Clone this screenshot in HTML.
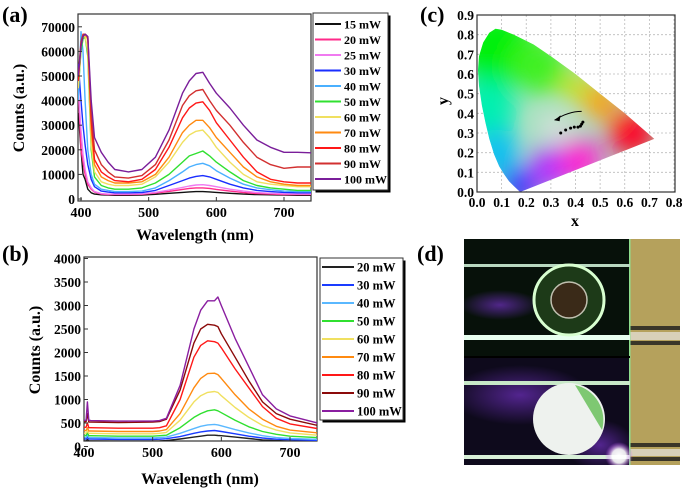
<!DOCTYPE html>
<html><head><meta charset="utf-8"><style>
html,body{margin:0;padding:0;background:#fff;}
svg{display:block;font-family:"Liberation Serif",serif;font-weight:bold;}
</style></head><body>
<svg id="fig" width="685" height="490" viewBox="0 0 685 490">
<defs>
<clipPath id="clipA"><rect x="78" y="14" width="233" height="187"/></clipPath>
<clipPath id="clipB"><rect x="84" y="257" width="233" height="184"/></clipPath>
<clipPath id="clipPhoto"><rect x="464" y="239" width="216" height="226"/></clipPath>
<filter id="blurC" x="-50%" y="-50%" width="200%" height="200%"><feGaussianBlur stdDeviation="12"/></filter>
<radialGradient id="glow"><stop offset="0" stop-color="#fff"/><stop offset="0.5" stop-color="#fff" stop-opacity="0.9"/><stop offset="1" stop-color="#c040ff" stop-opacity="0"/></radialGradient>
<radialGradient id="haze"><stop offset="0" stop-color="#7030c0" stop-opacity="0.7"/><stop offset="1" stop-color="#7030c0" stop-opacity="0"/></radialGradient>
</defs>
<g id="panelA"></g>
<g id="panelB"></g>
<g id="panelC"></g>
<g id="panelD">
  <text x="417" y="261" font-size="22">(d)</text>
  <g clip-path="url(#clipPhoto)">
    <rect x="464" y="239" width="166" height="226" fill="#07110a"/>
    <rect x="464" y="357" width="166" height="108" fill="#0e0a1c"/>
    <ellipse cx="520" cy="395" rx="70" ry="30" fill="url(#haze)"/>
    <ellipse cx="500" cy="305" rx="40" ry="15" fill="url(#haze)"/>
    <ellipse cx="600" cy="445" rx="35" ry="25" fill="url(#haze)"/>
    <rect x="630" y="239" width="50" height="226" fill="#b5a15c"/>
    <rect x="630" y="326" width="50" height="4" fill="#3a3528"/>
    <rect x="630" y="332" width="50" height="8" fill="#d8d0b8"/>
    <rect x="630" y="341" width="50" height="4" fill="#3a3528"/>
    <rect x="630" y="443" width="50" height="4" fill="#3a3528"/>
    <rect x="630" y="449" width="50" height="7" fill="#d8d0b8"/>
    <rect x="630" y="457" width="50" height="4" fill="#3a3528"/>
    <rect x="629" y="239" width="1.5" height="226" fill="#8fe08f"/>
    <rect x="464" y="264" width="166" height="3" fill="#b8d8c0"/>
    <rect x="464" y="335" width="166" height="5" fill="#e8fff0"/>
    <rect x="464" y="381" width="166" height="4" fill="#c8e8c8"/>
    <rect x="464" y="455" width="166" height="4" fill="#d8f0d8"/>
    <rect x="464" y="356" width="166" height="2" fill="#000"/>
    <circle cx="569" cy="300" r="35" fill="#1d3a18" stroke="#d8ffd0" stroke-width="3"/>
    <circle cx="569" cy="300" r="18" fill="#3a2a18" stroke="#c0c0b0" stroke-width="1.5"/>
    <circle cx="569" cy="419" r="36" fill="#eef2ee"/>
    <path d="M575 385 A36 36 0 0 1 602 430 Z" fill="#7ec872"/>
    <circle cx="619" cy="456" r="14" fill="url(#glow)"/>
  </g>
</g>
</svg>
<script>
var NS="http://www.w3.org/2000/svg";
function mk(parent,tag,attrs,text){var e=document.createElementNS(NS,tag);for(var k in attrs)e.setAttribute(k,attrs[k]);if(text!==undefined)e.textContent=text;parent.appendChild(e);return e;}

// ---------- Panel A data ----------
var aWave=[396,400,403,406,410,415,420,430,440,450,470,490,510,530,550,560,570,580,590,600,620,640,660,680,700,720,740];
var aLabels=["15 mW","20 mW","25 mW","30 mW","40 mW","50 mW","60 mW","70 mW","80 mW","90 mW","100 mW"];
var aColors=["#111111","#ff2a8a","#f07af0","#1a2eff","#4ab0ff","#30e030","#f0e060","#ff8a10","#ff1818","#d23030","#7a1e9a"];
var a15=[35000,20000,10000,8000,4000,2500,2000,1700,1600,1500,1500,1600,1900,2300,2700,2900,3000,3000,2900,2700,2300,2000,1800,1700,1600,1500,1500];
var a20=[45000,20000,15000,10000,6000,4000,2800,2000,1800,1800,1800,1900,2400,3100,3900,4300,4500,4500,4300,3900,3200,2600,2200,2000,1800,1800,1800];
var a25=[45000,28000,18000,12000,7000,4500,3000,2200,2000,2000,2000,2100,2700,3600,4700,5300,5700,5800,5500,5000,4000,3200,2600,2300,2100,2000,2000];
var a30=[55000,40000,30000,22000,14000,8000,5000,3200,2800,2500,2500,2600,3500,5500,7500,8500,9200,9500,9000,8000,6000,4500,3500,3000,2700,2500,2500];
var a40=[40000,68000,60000,40000,20000,10000,6000,4000,3500,3000,3000,3200,4500,7500,11000,13000,14000,14500,13500,11500,8500,6000,4500,3800,3200,3000,3000];
var a50=[45000,60000,65000,66000,58000,20000,9000,5500,4500,4000,4000,4500,6500,10000,15000,17500,18500,19500,17500,15000,11000,7500,5500,4500,4000,3500,3500];
var a60=[45000,62000,66000,66000,60000,22000,11000,7000,6000,5500,5500,6000,9000,15000,23000,26000,27500,28000,25000,21000,15000,10000,7000,6000,5500,5000,5000];
var a70=[48000,63000,66000,67000,65000,28000,14000,9000,7500,6500,6500,7000,10000,17000,27000,30000,32000,32000,29000,25000,19000,13000,9000,7000,6000,5500,5500];
var a80=[48000,63000,66000,67000,66000,32000,16000,11000,9000,7500,7000,8000,12000,21000,33000,37000,39000,39500,36000,31000,24000,17000,11000,8000,7000,6500,6500];
var a90=[50000,64000,67000,67000,66000,35000,20000,14000,11000,9000,8500,9500,14000,24000,38000,42000,44000,44500,40000,36000,30000,23000,17000,14000,12500,13000,13000];
var a100=[50000,62000,66000,67000,66000,40000,25000,19000,15000,12000,11000,12000,17000,28000,43000,48000,51000,51500,47000,43000,37000,30000,24000,21000,19000,19000,18800];
var aSeries=[a15,a20,a25,a30,a40,a50,a60,a70,a80,a90,a100];
var aXTicks=[400,500,600,700];
var aYTicks=[0,10000,20000,30000,40000,50000,60000,70000];

// ---------- Panel B data ----------
var bWave=[398,403,405,407,410,450,500,510,520,540,560,570,580,590,595,600,620,640,660,680,700,740];
var bLabels=["20 mW","30 mW","40 mW","50 mW","60 mW","70 mW","80 mW","90 mW","100 mW"];
var bColors=["#222222","#1a3cff","#5ab8ff","#30e030","#f0e060","#ff8a10","#ff1818","#8b0a0a","#8a1ea0"];
var b20=[120,120,150,120,120,115,115,118,125,160,200,220,240,240,235,230,200,170,140,125,115,105];
var b30=[160,160,200,160,160,150,150,155,165,210,280,310,330,340,330,320,270,220,180,155,145,130];
var b40=[190,190,250,190,190,180,180,190,200,280,380,430,460,470,460,440,360,290,230,190,170,150];
var b50=[230,235,300,230,230,220,220,230,240,400,620,700,760,780,760,720,560,420,320,260,220,190];
var b60=[280,285,330,280,280,270,270,280,300,560,950,1080,1150,1170,1150,1080,830,620,450,350,290,240];
var b70=[330,340,400,330,330,320,320,330,360,700,1250,1450,1550,1560,1530,1450,1100,800,580,430,350,290];
var b80=[400,410,500,400,400,390,390,400,440,1000,1900,2150,2250,2230,2200,2100,1650,1250,850,600,480,380];
var b90=[520,530,700,520,520,510,520,530,580,1200,2200,2500,2600,2580,2550,2400,1900,1400,950,700,580,450];
var b100=[550,560,950,560,550,540,540,550,600,1300,2500,2900,3100,3100,3180,3000,2300,1700,1100,800,650,500];
var bSeries=[b20,b30,b40,b50,b60,b70,b80,b90,b100];
var bXTicks=[400,500,600,700];
var bYTicks=[0,500,1000,1500,2000,2500,3000,3500,4000];

// ---------- Panel C data ----------
var cLocusX=[0.175,0.165,0.15,0.13,0.11,0.09,0.07,0.05,0.035,0.02,0.008,0.004,0.008,0.025,0.05,0.075,0.1,0.15,0.23,0.3,0.4,0.5,0.6,0.72];
var cLocusY=[0.0,0.012,0.03,0.055,0.09,0.13,0.19,0.27,0.35,0.44,0.54,0.62,0.69,0.76,0.81,0.83,0.825,0.8,0.75,0.69,0.6,0.5,0.4,0.27];
var cPointX=[0.34,0.36,0.38,0.395,0.41,0.42,0.425,0.43];
var cPointY=[0.30,0.315,0.325,0.33,0.33,0.335,0.345,0.355];
var cXTicks=[0,0.1,0.2,0.3,0.4,0.5,0.6,0.7,0.8];
var cYTicks=[0,0.1,0.2,0.3,0.4,0.5,0.6,0.7,0.8,0.9];

function lin(d0,d1,r0,r1){return function(v){return r0+(v-d0)*(r1-r0)/(d1-d0);};}

function drawSpectrum(g,o){
  var xs=lin(400,700,o.x400,o.x700), ys=lin(0,o.yRefVal,o.y0,o.yRef);
  var box=mk(g,'rect',{x:o.L,y:o.T,width:o.R-o.L,height:o.B-o.T,fill:'none',stroke:'#333','stroke-width':1.2});
  
  
  var lines=mk(g,'g',{'clip-path':'url(#'+o.clip+')'});
  
  
  o.series.forEach(function(s,i){
    var d='';
    for(var k=0;k<o.wave.length;k++){d+=(k?'L':'M')+xs(o.wave[k]).toFixed(1)+' '+ys(s[k]).toFixed(1);}
    var p=mk(lines,'path',{d:d,fill:'none',stroke:o.colors[i],'stroke-width':1.4,'stroke-linejoin':'round'});
    
    
  });
  o.xTicks.forEach(function(t){
    var x=xs(t);
    mk(g,'line',{x1:x,x2:x,y1:o.B,y2:o.B-4,stroke:'#333','stroke-width':1});
    var tl=mk(g,'text',{x:x,y:o.B+16,'font-size':14,'text-anchor':'middle'},t);
    
    
  });
  o.yTicks.forEach(function(t){
    var y=ys(t);
    mk(g,'line',{x1:o.L,x2:o.L+4,y1:y,y2:y,stroke:'#333','stroke-width':1});
    var tl=mk(g,'text',{x:o.L-3,y:y+5,'font-size':13.5,'text-anchor':'end'},t);
    
    
  });
  var xt=mk(g,'text',{x:o.xTitleX,y:o.xTitleY,'font-size':16,'text-anchor':'middle'},'Wavelength (nm)');
  
  
  var yt=mk(g,'text',{x:0,y:0,'font-size':16,'text-anchor':'middle',transform:'translate('+o.yTitleX+','+o.yTitleY+') rotate(-90)'},'Counts (a.u.)');
  
  
  var pl=mk(g,'text',{x:o.labX,y:o.labY,'font-size':22},o.panel);
  
  
  var lg=mk(g,'g',{});
  
  
  mk(lg,'rect',{x:o.lg.x+2.5,y:o.lg.y+2.5,width:o.lg.w,height:o.lg.h,fill:'#000'});
  mk(lg,'rect',{x:o.lg.x,y:o.lg.y,width:o.lg.w,height:o.lg.h,fill:'#fff',stroke:'#333','stroke-width':1});
  o.labels.forEach(function(lab,i){
    var y=o.lg.first+i*o.lg.step;
    var en=mk(lg,'g',{});
    
    
    mk(en,'line',{x1:o.lg.x+2,x2:o.lg.x+o.lg.lineW,y1:y,y2:y,stroke:o.colors[i],'stroke-width':2});
    mk(en,'text',{x:o.lg.x+o.lg.lineW+3,y:y+4.5,'font-size':o.lg.fs},lab);
  });
}

drawSpectrum(document.getElementById('panelA'),{id:'panel-a',panel:'(a)',L:78,R:311,T:14,B:201,x400:81,x700:284,y0:199,yRef:26.8,yRefVal:70000,
  wave:aWave,series:aSeries,colors:aColors,labels:aLabels,xTicks:aXTicks,yTicks:aYTicks,clip:'clipA',
  xTitleX:195,xTitleY:240,yTitleX:24,yTitleY:108,labX:2,labY:22,
  lg:{x:313,y:13,w:75,h:177,first:24,step:15.5,lineW:28,fs:12}});
drawSpectrum(document.getElementById('panelB'),{id:'panel-b',panel:'(b)',L:84,R:317,T:257,B:441,x400:84,x700:290,y0:446.5,yRef:258.5,yRefVal:4000,
  wave:bWave,series:bSeries,colors:bColors,labels:bLabels,xTicks:bXTicks,yTicks:bYTicks,clip:'clipB',
  xTitleX:200,xTitleY:484,yTitleX:40,yTitleY:350,labX:2,labY:261,
  lg:{x:320,y:258,w:83,h:162,first:267,step:18,lineW:34,fs:12.5}});

(function(){
  var g=document.getElementById('panelC');
  var L=477,R=675,T=15,B=192;
  var xs=lin(0,0.8,477,674), ys=lin(0,0.9,192,15);
  mk(g,'rect',{x:L,y:T,width:R-L,height:B-T,fill:'#fff'});
  cXTicks.forEach(function(t){var x=xs(t);mk(g,'line',{x1:x,x2:x,y1:T,y2:B,stroke:'#bbb','stroke-width':0.8,'stroke-dasharray':'2,2'});});
  cYTicks.forEach(function(t){var y=ys(t);mk(g,'line',{x1:L,x2:R,y1:y,y2:y,stroke:'#bbb','stroke-width':0.8,'stroke-dasharray':'2,2'});});
  var d='';
  for(var k=0;k<cLocusX.length;k++){d+=(k?'L':'M')+xs(cLocusX[k]).toFixed(1)+' '+ys(cLocusY[k]).toFixed(1);}
  d+='Z';
  var cp=mk(document.querySelector('defs'),'clipPath',{id:'clipC'});
  mk(cp,'path',{d:d});
  var gam=mk(g,'g',{'clip-path':'url(#clipC)'});
  
  
  mk(gam,'path',{d:d,fill:'#a8e0c0'});
  var bl=mk(gam,'g',{filter:'url(#blurC)'});
  var blobs=[[0.08,0.72,40,'#00f010'],[0.25,0.64,28,'#40f020'],[0.04,0.42,30,'#00f0b0'],[0.08,0.2,24,'#10c0f0'],[0.17,0.03,18,'#1818ff'],[0.3,0.12,22,'#b030ff'],[0.42,0.16,22,'#ff20d0'],[0.63,0.3,24,'#ff0020'],[0.5,0.46,18,'#ff9a10'],[0.4,0.53,16,'#c8e020'],[0.32,0.33,14,'#e0e0e0']];
  blobs.forEach(function(b){mk(bl,'circle',{cx:xs(b[0]),cy:ys(b[1]),r:b[2],fill:b[3]});});
  mk(g,'rect',{x:L,y:T,width:R-L,height:B-T,fill:'none',stroke:'#333','stroke-width':1.2});
  cXTicks.forEach(function(t){var x=xs(t);
    var tl=mk(g,'text',{x:x,y:B+15,'font-size':13.5,'text-anchor':'middle'},t.toFixed(1));
    
    });
  cYTicks.forEach(function(t){var y=ys(t);
    var tl=mk(g,'text',{x:L-3,y:y+5,'font-size':13.5,'text-anchor':'end'},t.toFixed(1));
    
    });
  cPointX.forEach(function(px,i){
    var c=mk(g,'circle',{cx:xs(px),cy:ys(cPointY[i]),r:1.5,fill:'#000'});
    
    
  });
  var ar=mk(g,'path',{d:'M'+xs(0.425)+' '+ys(0.41)+' Q'+xs(0.37)+' '+ys(0.41)+' '+xs(0.315)+' '+ys(0.365),fill:'none',stroke:'#000','stroke-width':1});
  
  
  var ax=xs(0.315),ay=ys(0.365);
  mk(g,'path',{d:'M'+ax+' '+ay+' l6 -5 l-1 6 Z',fill:'#000'});
  var xt=mk(g,'text',{x:575,y:226,'font-size':16,'text-anchor':'middle'},'x');
  
  
  var yt=mk(g,'text',{x:0,y:0,'font-size':16,'text-anchor':'middle',transform:'translate(448,101) rotate(-90)'},'y');
  
  
  var pl=mk(g,'text',{x:420,y:22,'font-size':22},'(c)');
  
  
})();
</script>
</body></html>
